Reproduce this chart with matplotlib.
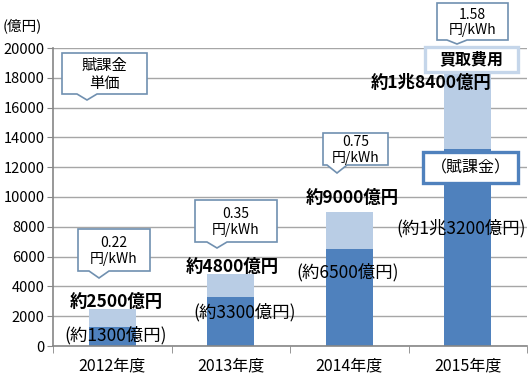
import matplotlib
matplotlib.use("Agg")
import matplotlib.pyplot as plt
from matplotlib.patches import Polygon, Rectangle

plt.rcParams['font.family'] = ['Noto Sans CJK JP', 'DejaVu Sans']

# data (億円)
years = ['2012年度', '2013年度', '2014年度', '2015年度']
total = [2500, 4800, 9000, 18400]      # 買取費用
levy = [1300, 3300, 6500, 13200]       # 賦課金
unit_price = ['0.22', '0.35', '0.75', '1.58']   # 円/kWh
total_labels = ['約2500億円', '約4800億円', '約9000億円', '約1兆8400億円']
levy_labels = ['(約1300億円)', '(約3300億円)', '(約6500億円)', '(約1兆3200億円)']

W, H = 529, 377
fig = plt.figure(figsize=(W / 100, H / 100), dpi=100)
ax = fig.add_axes([53 / W, 31 / H, 474 / W, 298 / H])

LIGHT = '#B9CDE5'
DARK = '#4F81BD'
EDGE = '#7090B0'

x = list(range(len(years)))
ax.bar(x, total, width=0.4, color=LIGHT, zorder=2)
ax.bar(x, levy, width=0.4, color=DARK, zorder=2)

ax.set_xlim(-0.5, 3.5)
ax.set_ylim(0, 20000)
ax.set_yticks(range(0, 20001, 2000))
ax.yaxis.grid(True, color='#A6A6A6', lw=1.0, zorder=0)
ax.set_axisbelow(True)
ax.set_xticks(x)
ax.set_xticklabels(years, fontsize=11.5)
ax.set_xticks([-0.5, 0.5, 1.5, 2.5, 3.5], minor=True)
ax.tick_params(axis='x', which='major', length=0, pad=8)
ax.tick_params(axis='x', which='minor', length=5, color='#868686')
ax.tick_params(axis='y', length=4, color='#868686', labelsize=10.5, pad=2)
for s in ['top', 'right']:
    ax.spines[s].set_visible(False)
for s in ['left', 'bottom']:
    ax.spines[s].set_color('#868686')
    ax.spines[s].set_linewidth(1.2)


def P(px, py):
    return (px / W, 1 - py / H)


def callout(x0, y0, x1, y1, tx, ty, text, fs=10):
    pts = [(x0, y0), (x1, y0), (x1, y1), (tx + 10, y1), (tx, ty),
           (tx - 10, y1), (x0, y1)]
    fig.add_artist(Polygon([P(*p) for p in pts], closed=True,
                           transform=fig.transFigure, fc='white',
                           ec=EDGE, lw=1.2, zorder=5))
    fig.text(*P((x0 + x1) / 2, (y0 + y1) / 2 + 1), text, ha='center',
             va='center', fontsize=fs, linespacing=1.1, zorder=6)


def box(x0, y0, x1, y1, ec, text, bold):
    fig.add_artist(Rectangle(P(x0, y1), (x1 - x0) / W, (y1 - y0) / H,
                             transform=fig.transFigure, fc='white', ec=ec,
                             lw=2.4, zorder=5))
    fig.text(*P((x0 + x1) / 2, (y0 + y1) / 2), text, ha='center',
             va='center', fontsize=11.5,
             fontweight='bold' if bold else 'normal', zorder=6)


fig.text(*P(22, 26), '(億円)', ha='center', va='center', fontsize=10.5)

callout(62, 53, 147, 94, 87, 100, '賦課金\n単価', fs=11)
boxes = [(78, 229, 150, 271, 99, 278),
         (195, 200, 277, 242, 217, 248),
         (323, 133, 388, 165, 337, 173),
         (437, 3, 508, 40, 457, 44)]
for (x0, y0, x1, y1, tx, ty), p in zip(boxes, unit_price):
    callout(x0, y0, x1, y1, tx, ty, p + '\n円/kWh')

box(425, 47, 518, 72, '#C5D6EA', '買取費用', True)
box(423, 152, 518, 183, DARK, '（賦課金）', False)

total_pos = [(116, 302), (232, 267), (352, 198), (431, 83)]
levy_pos = [(116, 335), (245, 312), (348, 272), (461, 228)]
for (px, py), t in zip(total_pos, total_labels):
    fig.text(*P(px, py), t, ha='center', va='center', fontsize=12.5,
             fontweight='bold', zorder=6)
for (px, py), t in zip(levy_pos, levy_labels):
    fig.text(*P(px, py), t, ha='center', va='center', fontsize=12.5,
             zorder=6)

fig.savefig('out.png', dpi=100)
